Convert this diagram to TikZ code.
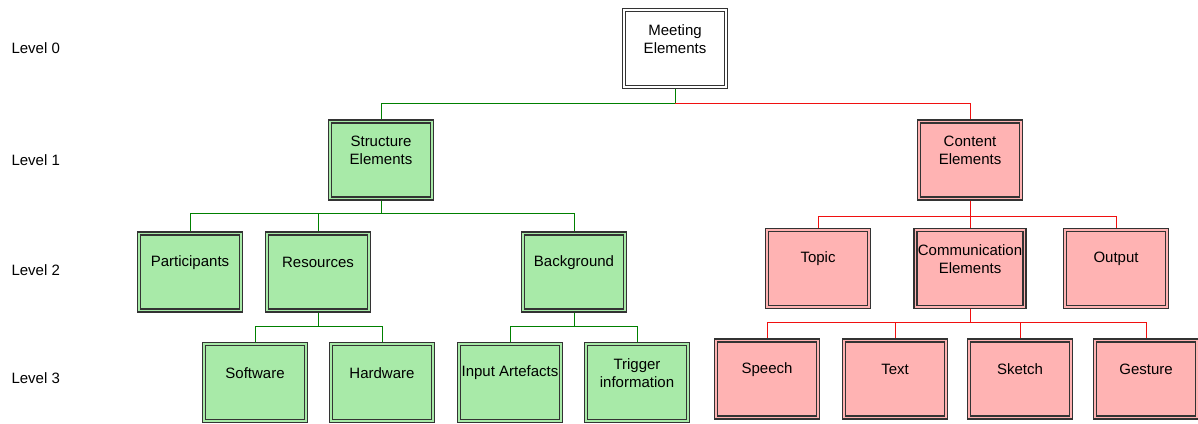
\documentclass[tikz,border=0pt]{standalone}
\usepackage{fontspec}
\setmainfont{Liberation Sans}
\usetikzlibrary{calc}
\definecolor{boxgreen}{HTML}{A8EAA8}
\definecolor{boxred}{HTML}{FFB3B3}
\definecolor{linegreen}{HTML}{008000}
\definecolor{linered}{HTML}{F01010}
\definecolor{edgegray}{HTML}{333333}
\begin{document}
\begin{tikzpicture}[x=1pt,y=-1pt,
  every label/.style={font=\fontsize{15}{18}\selectfont,align=center,anchor=center,yshift=-31pt},
  main node/.style={rectangle,draw=edgegray,line width=1.1pt,
    minimum width=105pt,minimum height=80pt,inner sep=0pt,
    path picture={\draw[edgegray,line width=1.1pt]
      ($(path picture bounding box.south west)+(3pt,3pt)$) rectangle
      ($(path picture bounding box.north east)+(-3pt,-3pt)$);}},
  plain node/.style={main node,fill=white},
  green node/.style={main node,fill=boxgreen},
  red node/.style={main node,fill=boxred},
  green line/.style={draw=linegreen,line width=0.8pt},
  red line/.style={draw=linered,line width=0.8pt},
  level/.style={font=\fontsize{15}{18}\selectfont,anchor=west}]
\useasboundingbox (0,0) rectangle (1198,423);

% levels
\node[level](L0) at (8,48) {Level 0};
\node[level](L1) at (8,160) {Level 1};
\node[level](L2) at (8,270) {Level 2};
\node[level](L3) at (8,378) {Level 3};

% boxes
\node[plain node,label={north:Meeting\\Elements}](ME) at (675,48.5) {};
\node[green node,label={north:Structure\\Elements}](SE) at (381,160) {};
\node[red node,label={north:Content\\Elements}](CE) at (970,160) {};

\node[green node,label={north:Participants}](PA) at (190,272) {};
\node[green node,label={north:Resources}](RE) at (318,272) {};
\node[green node,label={north:Background}](BG) at (574,272) {};
\node[red node,label={north:Topic}](TO) at (818,268.5) {};
\node[red node,minimum width=112pt,label={north:Communication\\Elements}](CO) at (970,268.5) {};
\node[red node,label={north:Output}](OU) at (1116,268.5) {};

\node[green node,label={north:Software}](SW) at (255,382.5) {};
\node[green node,label={north:Hardware}](HW) at (382,382.5) {};
\node[green node,label={north:Input Artefacts}](IA) at (510,382.5) {};
\node[green node,label={north:Trigger\\information}](TR) at (637,382.5) {};
\node[red node,label={north:Speech}](SP) at (767,379) {};
\node[red node,label={north:Text}](TX) at (895,379) {};
\node[red node,label={north:Sketch}](SK) at (1020,379) {};
\node[red node,label={north:Gesture}](GE) at (1146,379) {};

% connectors
\draw[green line] (ME.south) -- ++(0,14) -| (SE.north);
\draw[red line] ($(ME.south)+(0,14)$) -| (CE.north);
\foreach \c in {PA,RE,BG}
  \draw[green line] (SE.south) -- ++(0,13) -| (\c.north);
\foreach \c in {TO,CO,OU}
  \draw[red line] (CE.south) -- ++(0,16) -| (\c.north);
\foreach \c in {SW,HW}
  \draw[green line] (RE.south) -- ++(0,14) -| (\c.north);
\foreach \c in {IA,TR}
  \draw[green line] (BG.south) -- ++(0,14) -| (\c.north);
\foreach \c in {SP,TX,SK,GE}
  \draw[red line] (CO.south) -- ++(0,13) -| (\c.north);
\end{tikzpicture}
\end{document}
